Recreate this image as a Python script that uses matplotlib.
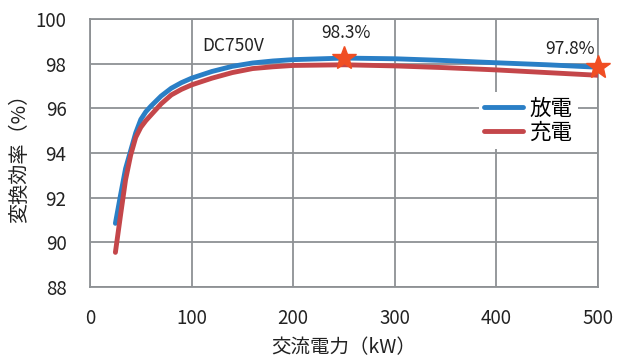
import matplotlib
matplotlib.use("Agg")
import matplotlib.pyplot as plt

plt.rcParams['font.family'] = ['Noto Sans CJK JP', 'DejaVu Sans']

# data (kW, %)
power = [25, 30, 35, 40, 45, 50, 55, 60, 70, 80, 90, 100, 120, 140, 160, 180,
         200, 250, 300, 350, 400, 450, 500]
eff_discharge = [90.85, 92.1, 93.3, 94.1, 94.9, 95.5, 95.85, 96.1, 96.55, 96.9, 97.15,
                 97.35, 97.65, 97.88, 98.03, 98.12, 98.18, 98.25, 98.22, 98.14, 98.04,
                 97.95, 97.84]
eff_charge = [89.55, 91.2, 92.8, 93.9, 94.7, 95.15, 95.45, 95.7, 96.2, 96.6, 96.85,
              97.05, 97.35, 97.6, 97.78, 97.86, 97.92, 97.95, 97.9, 97.82, 97.72,
              97.6, 97.48]
peak_x = [250, 500]
peak_y = [98.25, 97.84]
peak_labels = ["98.3%", "97.8%"]

blue = "#2a7fc6"
red = "#c4464a"
star = "#f04e23"
grid = "#8d9194"
txt = "#222222"

fig = plt.figure(figsize=(6.3, 3.6), dpi=100)
ax = fig.add_axes([90 / 630, 1 - 287 / 360, 508 / 630, 268 / 360])

ax.plot(power, eff_discharge, color=blue, lw=3.5, label="放電", zorder=3,
        solid_capstyle="round", solid_joinstyle="round")
ax.plot(power, eff_charge, color=red, lw=3.5, label="充電", zorder=3,
        solid_capstyle="round", solid_joinstyle="round")

ax.plot(peak_x, peak_y, linestyle="none", marker="*", markersize=18, color=star,
        zorder=5, clip_on=False)
ax.text(252, 99.37, peak_labels[0], ha="center", va="center", fontsize=12.5, color=txt)
ax.text(472, 98.65, peak_labels[1], ha="center", va="center", fontsize=12.5, color=txt)
ax.text(110, 98.8, "DC750V", ha="left", va="center", fontsize=12.5, color=txt)

ax.set_xlim(0, 500)
ax.set_ylim(88, 100)
ax.set_xticks([0, 100, 200, 300, 400, 500])
ax.set_yticks([88, 90, 92, 94, 96, 98, 100])
ax.grid(True, color=grid, lw=1.3)
ax.set_axisbelow(True)
for s in ax.spines.values():
    s.set_color(grid)
    s.set_linewidth(1.3)
ax.tick_params(length=0, labelsize=13.5, colors=txt)
ax.tick_params(axis="x", pad=15)
ax.tick_params(axis="y", pad=17)

ax.set_xlabel("交流電力（kW）", fontsize=14, labelpad=6, color=txt)
ax.set_ylabel("変換効率（%）", fontsize=14.5, labelpad=4, color=txt)

leg = ax.legend(loc="center left", bbox_to_anchor=(0.765, 0.62), frameon=True,
                fontsize=15.5, handlelength=1.8, handletextpad=0.3, labelspacing=0.1,
                borderpad=0.25, borderaxespad=0, fancybox=False)
leg.get_frame().set_edgecolor("none")
leg.get_frame().set_facecolor("white")
leg.get_frame().set_alpha(1)

fig.savefig("out.png", dpi=100)
